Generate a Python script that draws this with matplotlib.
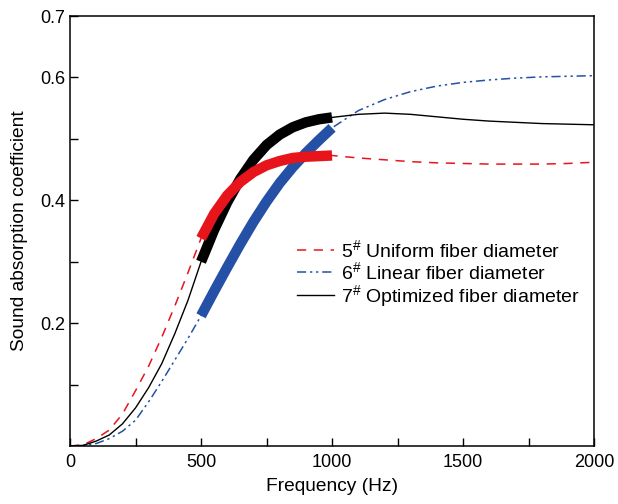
import matplotlib
matplotlib.use("Agg")
import matplotlib.pyplot as plt
import numpy as np

plt.rcParams["font.family"] = ["Liberation Sans", "DejaVu Sans"]
plt.rcParams["mathtext.fontset"] = "custom"
plt.rcParams["mathtext.rm"] = "Liberation Sans"
plt.rcParams["mathtext.default"] = "regular"

# frequency (Hz)
freq = [0, 50, 100, 150, 200, 250, 300, 350, 400, 450, 500,
        550, 600, 650, 700, 750, 800, 850, 900, 950, 1000,
        1100, 1200, 1300, 1400, 1500, 1600, 1700, 1800, 1900, 2000]

# 5# uniform fiber diameter
uniform = [0, 0.002, 0.012, 0.026, 0.052, 0.090, 0.130, 0.177, 0.228, 0.282, 0.338,
           0.378, 0.408, 0.430, 0.446, 0.457, 0.464, 0.469, 0.471, 0.472, 0.473,
           0.469, 0.466, 0.463, 0.461, 0.460, 0.459, 0.459, 0.459, 0.460, 0.462]

# 6# linear fiber diameter
linear = [0, 0.001, 0.004, 0.012, 0.024, 0.042, 0.072, 0.105, 0.140, 0.175, 0.212,
          0.252, 0.291, 0.329, 0.365, 0.398, 0.428, 0.454, 0.477, 0.498, 0.518,
          0.546, 0.564, 0.577, 0.586, 0.592, 0.596, 0.599, 0.601, 0.602, 0.603]

# 7# optimized fiber diameter
optimized = [0, 0.001, 0.008, 0.018, 0.036, 0.062, 0.095, 0.134, 0.183, 0.237, 0.300,
             0.352, 0.397, 0.435, 0.466, 0.490, 0.507, 0.519, 0.527, 0.532, 0.535,
             0.540, 0.542, 0.540, 0.536, 0.532, 0.529, 0.527, 0.525, 0.524, 0.523]

labels = [r"5$^{\#}$ Uniform fiber diameter",
          r"6$^{\#}$ Linear fiber diameter",
          r"7$^{\#}$ Optimized fiber diameter"]

red = "#e8141c"
blue = "#2451a6"

f = np.array(freq)
band = (f >= 500) & (f <= 1000)

fig = plt.figure(figsize=(6.18, 5.04), dpi=100)
ax = fig.add_axes([0.1133, 0.1151, 0.848, 0.853])

ax.plot(freq, uniform, color=red, lw=1.1, dashes=(6, 5), label=labels[0])
ax.plot(freq, linear, color=blue, lw=1.1, dashes=(6, 2.5, 1.5, 2.5, 1.5, 2.5), label=labels[1])
ax.plot(freq, optimized, color="black", lw=1.0, label=labels[2])

# highlighted 500-1000 Hz region
ax.plot(f[band], np.array(linear)[band], color=blue, lw=7.5, solid_capstyle="butt")
ax.plot(f[band], np.array(optimized)[band], color="black", lw=7.5, solid_capstyle="butt")
ax.plot(f[band], np.array(uniform)[band], color=red, lw=7.5, solid_capstyle="butt")

ax.set_xlim(0, 2000)
ax.set_ylim(0, 0.7)
ax.set_xticks([0, 500, 1000, 1500, 2000])
ax.set_xticks([250, 750, 1250, 1750], minor=True)
ax.set_yticks([0.2, 0.4, 0.6, 0.7])
ax.set_yticklabels(["0.2", "0.4", "0.6", "0.7"])
ax.set_yticks([0.1, 0.3, 0.5], minor=True)
ax.tick_params(which="both", direction="in", length=6, width=1, labelsize=13)
ax.tick_params(axis="x", pad=6)

for s in ax.spines.values():
    s.set_linewidth(1.1)

ax.set_xlabel("Frequency (Hz)", fontsize=13.8, labelpad=5)
ax.set_ylabel("Sound absorption coefficient", fontsize=13.8, labelpad=9)

ax.legend(loc="center left", bbox_to_anchor=(0.433, 0.40), frameon=False,
          fontsize=14, handlelength=1.9, handletextpad=0.35, labelspacing=0.0,
          borderpad=0, borderaxespad=0)

plt.savefig("out.png", dpi=100)
